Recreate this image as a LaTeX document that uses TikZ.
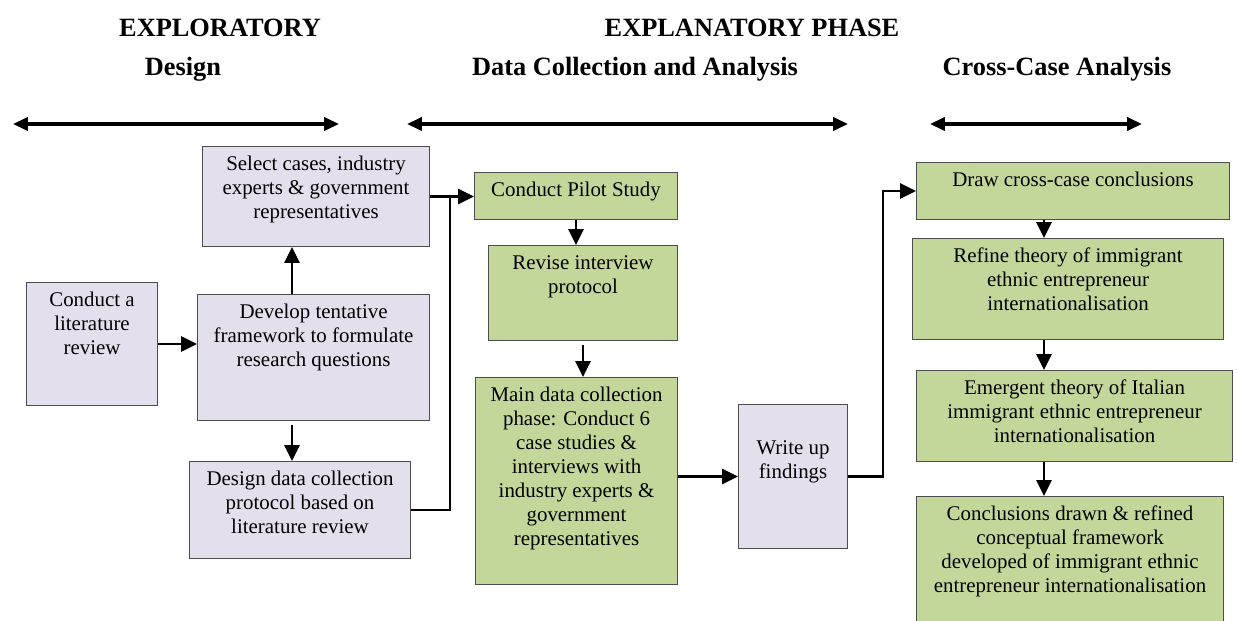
\documentclass[tikz,border=0pt]{standalone}
\usepackage{fontspec}
\setmainfont{Liberation Serif}
\usetikzlibrary{arrows.meta}

\definecolor{lilac}{HTML}{E4DFEC}
\definecolor{sage}{HTML}{C4D79B}
\definecolor{edge}{HTML}{4D4D4D}

\newlength{\pxu}
\setlength{\pxu}{0.02cm}
% text sits at the top of each box
\newcommand{\boxtext}[4][4.4pt]{\parbox[c][#3\pxu][t]{#2\pxu}{\centering\vspace*{#1}\strut#4}}

\tikzset{
	box/.style={draw=edge, line width=0.6pt, inner sep=0pt, anchor=north west,
		font=\fontsize{11.9}{13.6}\selectfont},
	explore/.style={box, fill=lilac},
	explain/.style={box, fill=sage},
	head/.style={font=\fontsize{15}{18}\selectfont\bfseries, anchor=base, inner sep=0pt},
	link/.style={line width=1.5pt},
	arr/.style={link, -{Triangle[length=9pt,width=8.5pt]}},
	span/.style={line width=1.8pt, {Triangle[length=8.5pt,width=7.5pt]}-{Triangle[length=8.5pt,width=7.5pt]}}
}

\begin{document}
\begin{tikzpicture}[x=0.02cm, y=-0.02cm]
	\useasboundingbox (0,0) rectangle (1237,621);
	\clip (0,0) rectangle (1237,621);

	% headings
	\node[head] (exploratory) at (220,37) {EXPLORATORY};
	\node[head] (explanatory) at (752,37) {EXPLANATORY PHASE};
	\node[head] (design) at (183,76) {Design};
	\node[head] (collection) at (635,76) {Data Collection and Analysis};
	\node[head] (crosscase) at (1057,76) {Cross-Case Analysis};

	\foreach \n/\a/\b in {design/13/339, collection/407/848, crosscase/930/1142} {
		\coordinate (\n-l) at (\a,124);
		\coordinate (\n-r) at (\b,124);
		\draw[span] (\n-l) -- (\n-r);
	}

	% exploratory boxes
	\node[explore] (lit) at (26,282) {\boxtext{131}{123}{Conduct a\\literature\\review}};
	\node[explore] (dev) at (197,294) {\boxtext{232}{126}{Develop tentative\\framework to formulate\\research questions}};
	\node[explore] (sel) at (202,146) {\boxtext{227}{100}{Select cases, industry\\experts \& government\\representatives}};
	\node[explore] (des) at (189,461) {\boxtext{221}{97}{Design data collection\\protocol based on\\literature review}};

	% data collection
	\node[explain] (pilot) at (474,172) {\boxtext{203}{47}{Conduct Pilot Study}};
	\node[explain] (rev) at (488,245) {\boxtext{189}{95}{Revise interview\\protocol}};
	\node[explain] (main) at (475,377) {\boxtext{202}{207}{Main data collection\\phase: Conduct 6\\case studies \&\\interviews with\\industry experts \&\\government\\representatives}};
	\node[explore] (write) at (738,404) {\boxtext[19pt]{109}{144}{Write up\\findings}};

	% cross-case
	\node[explain] (draw) at (916,162) {\boxtext{313}{57}{Draw cross-case conclusions}};
	\node[explain] (refine) at (912,238) {\boxtext{311}{101}{Refine theory of immigrant\\ethnic entrepreneur\\internationalisation}};
	\node[explain] (emerg) at (916,370) {\boxtext{316}{91}{Emergent theory of Italian\\immigrant ethnic entrepreneur\\internationalisation}};
	\node[explain] (concl) at (916,496) {\boxtext{307}{140}{Conclusions drawn \& refined\\conceptual framework\\developed of immigrant ethnic\\entrepreneur internationalisation}};

	\coordinate (lspine) at (292,0);
	\coordinate (merge) at (450,0);
	\coordinate (rise) at (883,0);
	\coordinate (cspine) at (1044,0);

	\draw[arr] (lit.east) -- (lit.east -| dev.west);
	\draw[arr] (dev.north -| lspine) -- (sel.south -| lspine);
	\draw[arr, shorten <=4\pxu] (dev.south -| lspine) -- (des.north -| lspine);
	\draw[arr] (sel.east) -- (sel.east -| pilot.west);
	\draw[link] (des.east) -- (des.east -| merge) -- (sel.east -| merge);

	\draw[arr] (pilot.south) -- (pilot.south |- rev.north);
	\draw[arr, shorten <=4\pxu] (rev.south) -- (rev.south |- main.north);
	\draw[arr] (write.west -| main.east) -- (write.west);
	\draw[arr] (write.east) -- (write.east -| rise) -- (rise |- draw.west) -- (draw.west);

	\draw[arr] (draw.south -| cspine) -- (refine.north -| cspine);
	\draw[arr] (refine.south -| cspine) -- (emerg.north -| cspine);
	\draw[arr] (emerg.south -| cspine) -- (concl.north -| cspine);
\end{tikzpicture}
\end{document}
